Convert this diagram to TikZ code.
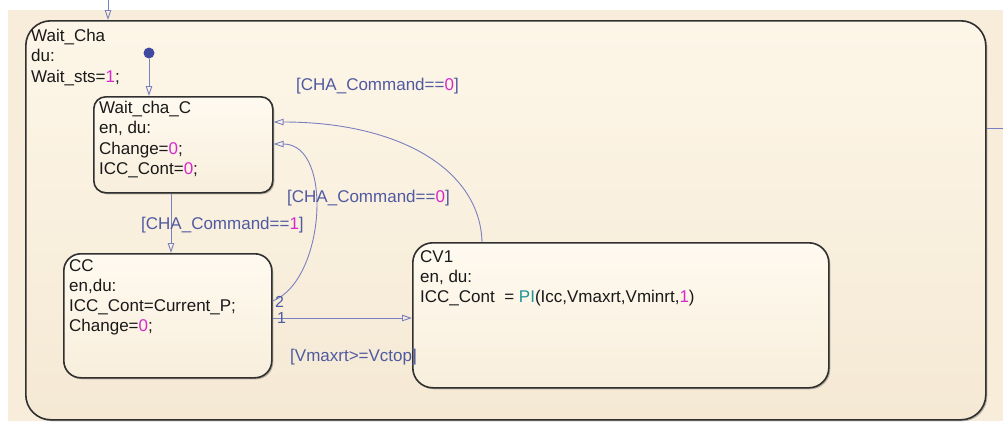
\documentclass[tikz,border=0pt]{standalone}
\usepackage{fontspec}
\setmainfont{Liberation Sans}
\usetikzlibrary{arrows.meta,shadows,calc}

\definecolor{canvas}{RGB}{248,237,219}
\definecolor{outertop}{RGB}{253,246,232}
\definecolor{outerbot}{RGB}{245,233,212}
\definecolor{innertop}{RGB}{255,250,240}
\definecolor{innerbot}{RGB}{248,238,220}
\definecolor{edge}{RGB}{48,48,48}
\definecolor{wire}{RGB}{122,128,192}
\definecolor{guard}{RGB}{80,90,160}
\definecolor{dotblue}{RGB}{64,72,160}
\definecolor{num}{RGB}{214,40,204}
\definecolor{fun}{RGB}{30,150,150}
\definecolor{ink}{RGB}{25,25,25}

\newcommand{\nm}[1]{\textcolor{num}{#1}}

\tikzset{
  statebox/.style={draw=edge, line width=1.6pt, inner sep=0pt, anchor=north west,
    top color=innertop, bottom color=innerbot,
    drop shadow={shadow xshift=1.5pt, shadow yshift=-1.5pt, opacity=0.25, fill=black}},
  outerbox/.style={statebox, top color=outertop, bottom color=outerbot, rounded corners=25pt},
  line/.style={anchor=base west, inner sep=0pt, text=ink, font=\fontsize{17}{20}\selectfont},
  guardtext/.style={line, text=guard},
  conn/.style={draw=wire, line width=0.9pt, -{Triangle[open, length=10pt, width=6.5pt, line width=0.9pt]}},
  stub/.style={draw=wire, line width=0.9pt},
}

\begin{document}
\begin{tikzpicture}[x=1pt, y=-1pt]
  \useasboundingbox (0,0) rectangle (1003,421);
  \fill[white] (0,0) rectangle (1003,421);
  \fill[canvas] (8,10) rectangle (1003,421);

  % superstate
  \node[outerbox, minimum width=960pt, minimum height=399pt] (waitcha) at (25,20) {};
  \node[line] (wc1) at (31,41) {Wait\_Cha};
  \node[line] (wc2) at (31,61.5) {du:};
  \node[line] (wc3) at (31,82) {Wait\_sts=\nm{1};};

  % substates
  \node[statebox, rounded corners=12pt, minimum width=179pt, minimum height=96pt] (waitc) at (93,96) {};
  \node[line] (a1) at (99,113) {Wait\_cha\_C};
  \node[line] (a2) at (99,133.5) {en, du:};
  \node[line] (a3) at (99,154) {Change=\nm{0};};
  \node[line] (a4) at (99,174.5) {ICC\_Cont=\nm{0};};

  \node[statebox, rounded corners=17pt, minimum width=208pt, minimum height=124pt] (cc) at (63,253) {};
  \node[line] (b1) at (69,271) {CC};
  \node[line] (b2) at (69,291.5) {en,du:};
  \node[line] (b3) at (69,311.5) {ICC\_Cont=Current\_P;};
  \node[line] (b4) at (69,331.5) {Change=\nm{0};};

  \node[statebox, rounded corners=20pt, minimum width=416pt, minimum height=145pt] (cv) at (412,242) {};
  \node[line] (c1) at (420,262) {CV1};
  \node[line] (c2) at (420,282) {en, du:};
  \node[line] (c3) at (420,302) {ICC\_Cont\ \ = \textcolor{fun}{PI}(Icc,Vmaxrt,Vminrt,\nm{1})};

  % default transition and entries
  \node[circle, fill=dotblue, minimum size=11pt, inner sep=0pt] (init) at (149,53) {};
  \draw[conn] (init) -- (init |- waitc.north);

  \coordinate (entry) at (108,0);
  \draw[conn] (entry) -- (entry |- waitcha.north);

  \coordinate (exit) at (1010,128);
  \draw[stub] (waitcha.east |- exit) -- (exit);

  % Wait_cha_C -> CC
  \coordinate (vx) at (171,0);
  \draw[conn] (waitc.south -| vx) -- (cc.north -| vx);
  \node[guardtext] (g1) at (141,229) {[CHA\_Command==\nm{1}]};

  % CC -> CV1
  \coordinate (h1) at (0,318);
  \draw[conn] (cc.east |- h1) -- (cv.west |- h1);
  \node[guardtext, font=\fontsize{16}{20}\selectfont] (n1) at (277,323.5) {1};
  \node[guardtext] (g2) at (290,361) {[Vmaxrt>=Vctop]};

  % CC -> Wait_cha_C
  \coordinate (h2) at (0,301);
  \coordinate (h3) at (0,144);
  \draw[conn] (cc.east |- h2) .. controls (325,281) and (334,144) .. (waitc.east |- h3);
  \node[guardtext, font=\fontsize{16}{20}\selectfont] (n2) at (275,307) {2};
  \node[guardtext] (g3) at (287,202.5) {[CHA\_Command==\nm{0}]};

  % CV1 -> Wait_cha_C
  \coordinate (v2) at (482,0);
  \coordinate (h4) at (0,122);
  \draw[conn] (cv.north -| v2) .. controls (480,170) and (400,122) .. (waitc.east |- h4);
  \node[guardtext] (g4) at (296,90) {[CHA\_Command==\nm{0}]};
\end{tikzpicture}
\end{document}
